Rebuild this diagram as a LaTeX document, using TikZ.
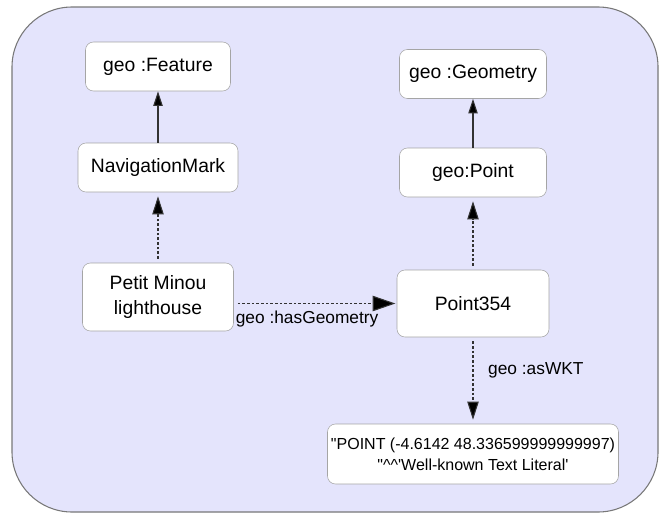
\documentclass[tikz,border=0pt]{standalone}
\usepackage{fontspec}
\setmainfont{Liberation Sans}
\usepackage{tikz}
\usetikzlibrary{arrows.meta}

\definecolor{panelfill}{RGB}{228,228,252}
\definecolor{paneledge}{RGB}{120,120,120}
\definecolor{boxedge}{RGB}{165,165,165}
\definecolor{linkgrey}{RGB}{50,50,50}

\tikzset{
  cls/.style={draw=boxedge, fill=white, rounded corners=6pt, inner sep=0pt,
    align=center, minimum height=36.75pt, font=\fontsize{14.5}{18.75}\selectfont},
  lit/.style={cls, font=\fontsize{12}{15.5}\selectfont},
  subof/.style={draw=linkgrey, line width=0.8pt, -{Triangle[length=11pt,width=7pt,fill=black]}},
  typeof/.style={draw=linkgrey, line width=0.8pt, dash pattern=on 2pt off 1.5pt,
    shorten <=3pt, shorten >=3pt, -{Triangle[length=13.5pt,width=8.5pt,fill=black]}},
  prop/.style={typeof, shorten >=1pt, -{Triangle[length=17pt,width=11.5pt,fill=black]}},
  proplabel/.style={font=\fontsize{13}{15}\selectfont, inner sep=1pt}
}

\begin{document}
\begin{tikzpicture}[x=0.75pt, y=-0.75pt]
\useasboundingbox (0,0) rectangle (659,514);

%draw background panel
\draw[draw=paneledge, fill=panelfill, line width=0.8pt, rounded corners=45pt]
  (12,7) rectangle (658,512);

%draw left column
\node[cls, minimum width=108.75pt] (feature) at (158,66.5) {geo :Feature};
\node[cls, minimum width=120pt] (navmark) at (158,167.5) {NavigationMark};
\node[cls, minimum width=113.25pt, minimum height=51pt] (minou) at (158,297) {Petit Minou\\lighthouse};

%draw right column
\node[cls, minimum width=110.25pt] (geometry) at (473,74) {geo :Geometry};
\node[cls, minimum width=110.25pt] (geopoint) at (473,172.5) {geo:Point};
\node[cls, minimum width=114pt, minimum height=50.25pt] (point) at (473,303.5) {Point354};
\node[lit, minimum width=218.25pt, minimum height=45pt] (wkt) at (473,454)
  {\textquotedbl POINT (-4.6142 48.336599999999997)\\
   \textquotedbl\textasciicircum\textasciicircum\textquotesingle Well-known Text Literal\textquotesingle};

%draw links
\draw[subof] (navmark) -- (feature);
\draw[typeof] (minou) -- (navmark);
\draw[subof] (geopoint) -- (geometry);
\draw[typeof] (point) -- (geopoint);
\draw[prop] (minou.east |- point.west) -- (point.west)
  node[proplabel, pos=0.45, below=4pt] {geo :hasGeometry};
\draw[typeof] (point) -- (wkt)
  node[proplabel, pos=0.38, right=10pt] {geo :asWKT};
\end{tikzpicture}
\end{document}
